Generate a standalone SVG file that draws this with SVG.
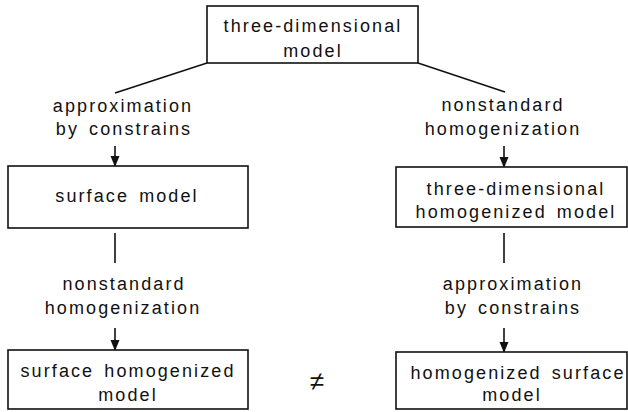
<svg xmlns="http://www.w3.org/2000/svg" width="628" height="412" viewBox="0 0 628 412">
<defs>
<style>
.box{fill:#fff;stroke:#111;stroke-width:1.6}
.ln{fill:none;stroke:#111;stroke-width:1.6}
text{font-family:"Liberation Sans",Arial,sans-serif;font-size:18px;fill:#111;text-anchor:middle;letter-spacing:2.1px;word-spacing:3px}
.ne{font-size:26px;letter-spacing:0}
</style>
<marker id="ah" markerWidth="10" markerHeight="12" refX="10" refY="5" orient="auto" markerUnits="userSpaceOnUse">
<path d="M0,0.5 L11,5 L0,9.5 Z" fill="#111"/>
</marker>
</defs>
<rect width="628" height="412" fill="#fff"/>
<g id="connectors">
<path class="ln" d="M207,63 L115,93"/>
<path class="ln" d="M418,63 L505,92"/>
<path class="ln" d="M115,146 L115,166" marker-end="url(#ah)"/>
<path class="ln" d="M504,146 L504,167" marker-end="url(#ah)"/>
<path class="ln" d="M115,233 L115,263"/>
<path class="ln" d="M504,233 L504,263"/>
<path class="ln" d="M115,328 L115,350" marker-end="url(#ah)"/>
<path class="ln" d="M504,328 L504,352" marker-end="url(#ah)"/>
<text x="123" y="112">approximation</text>
<text x="124" y="135">by constrains</text>
<text x="503" y="111">nonstandard</text>
<text x="503" y="135">homogenization</text>
<text x="124" y="290">nonstandard</text>
<text x="123" y="314">homogenization</text>
<text x="513" y="290">approximation</text>
<text x="513" y="314">by constrains</text>
<text class="ne" x="317" y="390">≠</text>
</g>
<g id="n1">
<rect class="box" x="207" y="6" width="211" height="57"/>
<text x="313" y="32">three-dimensional</text>
<text x="313" y="57">model</text>
</g>
<g id="n2">
<rect class="box" x="8" y="166" width="240" height="62"/>
<text x="127" y="202">surface model</text>
</g>
<g id="n3">
<rect class="box" x="396" y="167" width="231" height="60"/>
<text x="516" y="195">three-dimensional</text>
<text x="516" y="218">homogenized model</text>
</g>
<g id="n4">
<rect class="box" x="8" y="350" width="240" height="59"/>
<text x="128" y="377">surface homogenized</text>
<text x="128" y="401">model</text>
</g>
<g id="n5">
<rect class="box" x="396" y="352" width="231" height="57"/>
<text x="518" y="379">homogenized surface</text>
<text x="512" y="401">model</text>
</g>
</svg>
